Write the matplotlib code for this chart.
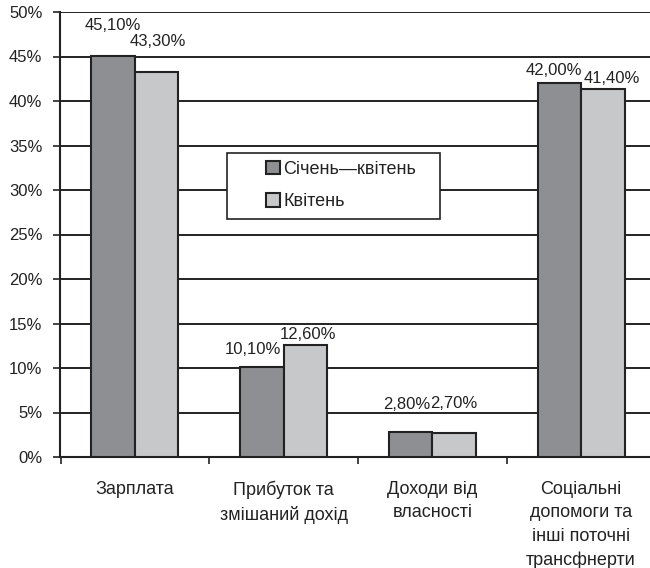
import numpy as np
import matplotlib
matplotlib.use("Agg")
import matplotlib.pyplot as plt
from matplotlib.patches import Rectangle

categories = ["Зарплата", "Прибуток та\nзмішаний дохід", "Доходи від\nвласності",
              "Соціальні\nдопомоги та\nінші поточні\nтрансфнерти"]
jan_apr = [45.1, 10.1, 2.8, 42.0]
april = [43.3, 12.6, 2.7, 41.4]
series_names = ["Січень—квітень", "Квітень"]

DARK = "#8e8f93"
LIGHT = "#c7c8ca"
INK = "#222222"
# label nudges in pixels (dx, dy) from the top centre of each bar
jan_off = [(0, 30), (-9, 18), (-4, 28), (-6, 13)]
apr_off = [(1, 30), (3, 10), (0, 29), (9, 10)]

plt.rcParams["font.family"] = ["Liberation Sans", "DejaVu Sans"]

fig = plt.figure(figsize=(6.5, 5.68), dpi=100)
ax = fig.add_axes([60.5 / 650, 1 - 457 / 568, 595 / 650, 445 / 568])

x = np.arange(len(categories))
w = 0.292
b1 = ax.bar(x - w / 2, jan_apr, w, color=DARK, edgecolor=INK, linewidth=1.5, zorder=3)
b2 = ax.bar(x + w / 2, april, w, color=LIGHT, edgecolor=INK, linewidth=1.5, zorder=3)

for bars, vals, offs in [(b1, jan_apr, jan_off), (b2, april, apr_off)]:
    for r, v, (dx, dy) in zip(bars, vals, offs):
        ax.annotate(f"{v:.2f}%".replace(".", ","),
                    (r.get_x() + r.get_width() / 2, v),
                    xytext=(dx, dy), textcoords="offset pixels",
                    ha="center", va="center", fontsize=12, color=INK)

ax.set_xlim(-0.5, len(categories) - 0.5)
ax.set_ylim(0, 50)
ax.set_yticks(np.arange(0, 51, 5))
ax.set_yticklabels([f"{t}%" for t in range(0, 51, 5)], fontsize=12, color=INK)
ax.yaxis.grid(True, color=INK, linewidth=1.4, zorder=0)
ax.set_axisbelow(True)

ax.set_xticks(x)
ax.set_xticklabels(categories, fontsize=13, linespacing=1.5, color=INK, va="top")
ax.tick_params(axis="x", which="major", length=0, pad=17)
ax.set_xticks(np.arange(-0.5, len(categories), 1), minor=True)
ax.tick_params(axis="x", which="minor", length=5, width=1.2, color=INK, direction="out")
ax.tick_params(axis="y", length=5, width=1.2, color=INK, pad=8)

for s in ["top", "right"]:
    ax.spines[s].set_visible(False)
for s in ["left", "bottom"]:
    ax.spines[s].set_color(INK)
    ax.spines[s].set_linewidth(1.5)

# legend box
fig.patches.append(Rectangle((227 / 650, 1 - 219 / 568), 213 / 650, 66 / 568,
                             transform=fig.transFigure, facecolor="white",
                             edgecolor=INK, linewidth=1.2, zorder=5))
leg = fig.legend([b1, b2], series_names, loc="upper left",
                 bbox_to_anchor=(266 / 650, 1 - 161 / 568), bbox_transform=fig.transFigure,
                 frameon=False, fontsize=13, handlelength=0.75, handleheight=0.75,
                 handletextpad=0.2, labelspacing=0.85, borderpad=0, borderaxespad=0)
leg.set_zorder(6)
for t in leg.get_texts():
    t.set_color(INK)

fig.savefig("out.png", dpi=100)
